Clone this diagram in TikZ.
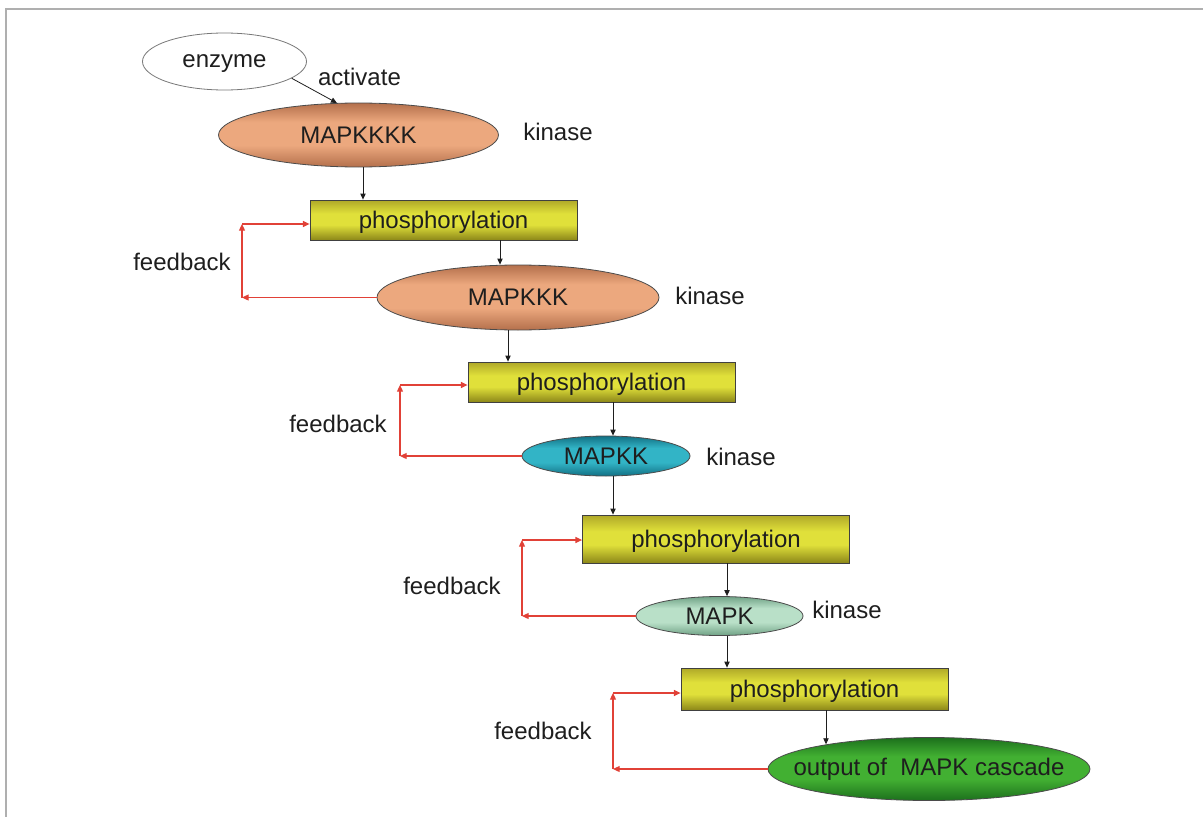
\documentclass[tikz,border=0pt]{standalone}
\usepackage{fontspec}
\setmainfont{Liberation Sans}
\usetikzlibrary{shapes.geometric,arrows.meta}

\definecolor{framegray}{RGB}{175,175,175}
\definecolor{ink}{RGB}{30,30,30}
\definecolor{fbred}{RGB}{225,65,55}
\definecolor{boxtop}{RGB}{175,168,40}
\definecolor{boxmid}{RGB}{224,224,58}
\definecolor{boxbot}{RGB}{140,135,25}
\definecolor{tanin}{RGB}{236,168,126}
\definecolor{tanout}{RGB}{180,112,76}
\definecolor{tealin}{RGB}{50,180,198}
\definecolor{tealout}{RGB}{18,112,132}
\definecolor{mintin}{RGB}{185,224,200}
\definecolor{mintout}{RGB}{112,162,134}
\definecolor{greenin}{RGB}{66,176,50}
\definecolor{greenout}{RGB}{28,112,28}

% cylinder-like vertical shadings: dark rims, light middle band
\pgfdeclareverticalshading{phosbar}{100bp}{color(0bp)=(boxbot); color(25bp)=(boxbot); color(44bp)=(boxmid); color(58bp)=(boxmid); color(75bp)=(boxtop); color(100bp)=(boxtop)}
\pgfdeclareverticalshading{tanbar}{100bp}{color(0bp)=(tanout); color(25bp)=(tanout); color(42bp)=(tanin); color(60bp)=(tanin); color(75bp)=(tanout); color(100bp)=(tanout)}
\pgfdeclareverticalshading{tealbar}{100bp}{color(0bp)=(tealout); color(25bp)=(tealout); color(42bp)=(tealin); color(60bp)=(tealin); color(75bp)=(tealout); color(100bp)=(tealout)}
\pgfdeclareverticalshading{mintbar}{100bp}{color(0bp)=(mintout); color(25bp)=(mintout); color(42bp)=(mintin); color(60bp)=(mintin); color(75bp)=(mintout); color(100bp)=(mintout)}
\pgfdeclareverticalshading{greenbar}{100bp}{color(0bp)=(greenout); color(25bp)=(greenout); color(42bp)=(greenin); color(60bp)=(greenin); color(75bp)=(greenout); color(100bp)=(greenout)}

\tikzset{
  lbl/.style={text=ink, inner sep=0pt},
  blob/.style={ellipse, draw=ink!80, line width=0.6pt, inner sep=0pt, text=ink},
  phos/.style={rectangle, draw=ink!85, line width=0.6pt, inner sep=0pt,
    shading=phosbar, text=ink, text depth=0pt, minimum width=200.25pt},
  arr/.style={draw=ink, line width=0.6pt, -{Triangle[length=4.5pt,width=4pt]}},
  fb/.style={draw=fbred, line width=0.9pt, -{Triangle[length=5pt,width=4.5pt]}},
}

\begin{document}
\begin{tikzpicture}[x=0.75pt, y=-0.75pt, font=\fontsize{18}{21}\selectfont]
\useasboundingbox (0,0) rectangle (1203,817);

% page frame (top and left edges)
\draw[framegray, line width=1.5pt] (5.5,817) -- (5.5,9.5) -- (1203,9.5);

% cascade nodes
\node[blob, fill=white, draw=ink!60, text depth=0pt, minimum width=123pt, minimum height=42.75pt] (enz) at (224.5,61.5) {enzyme};
\node[blob, shading=tanbar, minimum width=210pt, minimum height=48pt] (k4) at (358.5,135) {MAPKKKK};
\node[phos, minimum height=30pt] (b1) at (443.5,220) {phosphorylation};
\node[blob, shading=tanbar, minimum width=211.5pt, minimum height=48.75pt] (k3) at (518,297.5) {MAPKKK};
\node[phos, minimum height=30pt] (b2) at (601.5,382) {phosphorylation};
\node[blob, shading=tealbar, minimum width=126pt, minimum height=30pt] (k2) at (606,456) {MAPKK};
\node[phos, minimum height=36pt] (b3) at (716,539) {phosphorylation};
\node[blob, shading=mintbar, minimum width=125.25pt, minimum height=29.25pt] (k1) at (719.5,616) {MAPK};
\node[phos, minimum height=31.5pt] (b4) at (814.5,689) {phosphorylation};
\node[blob, shading=greenbar, minimum width=241.5pt, minimum height=47.25pt,
      label={[name=outtxt, lbl]center:output of~~MAPK cascade}] (out) at (929,769) {};

% side labels
\node[lbl] (act) at (359.5,77) {activate};
\node[lbl] (kin4) at (558,132) {kinase};
\node[lbl] (kin3) at (710,296) {kinase};
\node[lbl] (kin2) at (741,457) {kinase};
\node[lbl] (kin1) at (847,610) {kinase};
\node[lbl] (fbt1) at (182,262) {feedback};
\node[lbl] (fbt2) at (338,424) {feedback};
\node[lbl] (fbt3) at (452,586) {feedback};
\node[lbl] (fbt4) at (543,731) {feedback};

% forward arrows down the cascade
\draw[arr] (enz.-14.5) -- (k4.124);
\draw[arr] ([xshift=3.375pt]k4.south) -- ([xshift=-60.375pt]b1.north);
\draw[arr] ([xshift=42.375pt]b1.south) -- ([xshift=-13.5pt]k3.north);
\draw[arr] ([xshift=-7.5pt]k3.south) -- ([xshift=-70.125pt]b2.north);
\draw[arr] ([xshift=8.625pt]b2.south) -- ([xshift=5.25pt]k2.north);
\draw[arr] ([xshift=5.25pt]k2.south) -- ([xshift=-77.25pt]b3.north);
\draw[arr] ([xshift=8.25pt]b3.south) -- ([xshift=5.625pt]k1.north);
\draw[arr] ([xshift=5.625pt]k1.south) -- ([xshift=-65.625pt]b4.north);
\draw[arr] ([xshift=8.625pt]b4.south) -- ([xshift=-77.25pt,yshift=-5.4pt]out.north);

% feedback loops: product -> left rail -> back into the phosphorylation step
\coordinate (r1b) at (242,297.5);
\coordinate (r1t) at (242,224);
\draw[fb] (k3.west) -- (r1b);
\draw[fb] (r1b) -- (r1t);
\draw[fb] (r1t) -- ([yshift=-3pt]b1.west);

\coordinate (r2b) at (400,456);
\coordinate (r2t) at (400,385);
\draw[fb] (k2.west) -- (r2b);
\draw[fb] (r2b) -- (r2t);
\draw[fb] (r2t) -- ([yshift=-2.25pt]b2.west);

\coordinate (r3b) at (522,616);
\coordinate (r3t) at (522,540);
\draw[fb] (k1.west) -- (r3b);
\draw[fb] (r3b) -- (r3t);
\draw[fb] (r3t) -- ([yshift=-0.75pt]b3.west);

\coordinate (r4b) at (613,769);
\coordinate (r4t) at (613,693);
\draw[fb] (out.west) -- (r4b);
\draw[fb] (r4b) -- (r4t);
\draw[fb] (r4t) -- ([yshift=-3pt]b4.west);
\end{tikzpicture}
\end{document}
